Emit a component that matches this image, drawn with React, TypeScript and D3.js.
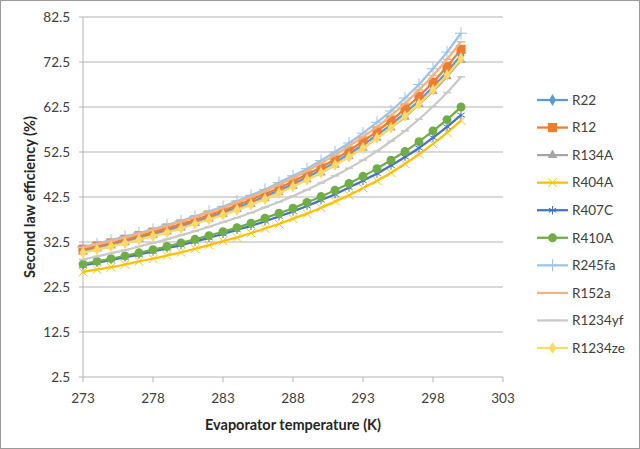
import * as d3 from "d3";

// evaporator temperature (K)
const temps = [
  273, 274, 275, 276, 277, 278, 279, 280, 281, 282, 283, 284, 285, 286,
  287, 288, 289, 290, 291, 292, 293, 294, 295, 296, 297, 298, 299, 300,
];

// second law efficiency (%)
const r22 = [
  30.6, 31.3, 32.0, 32.7, 33.5, 34.3, 35.2, 36.1, 37.0, 38.0, 39.1, 40.2, 41.4, 42.6,
  44.0, 45.4, 46.9, 48.5, 50.2, 52.1, 54.1, 56.3, 58.6, 61.2, 63.9, 67.0, 70.3, 74.0,
];
const r12 = [
  30.9, 31.6, 32.3, 33.1, 33.9, 34.7, 35.6, 36.5, 37.4, 38.5, 39.5, 40.7, 41.9, 43.2,
  44.5, 46.0, 47.5, 49.1, 50.9, 52.8, 54.9, 57.1, 59.5, 62.1, 64.9, 68.0, 71.5, 75.3,
];
const r134a = [
  30.3, 31.0, 31.7, 32.4, 33.2, 34.0, 34.8, 35.7, 36.7, 37.6, 38.7, 39.8, 40.9, 42.2,
  43.5, 44.9, 46.4, 47.9, 49.6, 51.5, 53.4, 55.6, 57.9, 60.3, 63.1, 66.0, 69.3, 72.9,
];
const r404a = [
  25.8, 26.4, 26.9, 27.5, 28.2, 28.8, 29.5, 30.2, 31.0, 31.8, 32.7, 33.5, 34.5, 35.5,
  36.5, 37.7, 38.8, 40.1, 41.5, 42.9, 44.5, 46.1, 47.9, 49.9, 52.0, 54.3, 56.8, 59.5,
];
const r407c = [
  27.3, 27.9, 28.5, 29.1, 29.7, 30.4, 31.1, 31.8, 32.6, 33.4, 34.3, 35.2, 36.1, 37.1,
  38.2, 39.3, 40.5, 41.8, 43.1, 44.6, 46.1, 47.7, 49.5, 51.4, 53.4, 55.7, 58.1, 60.7,
];
const r410a = [
  27.6, 28.2, 28.8, 29.4, 30.1, 30.8, 31.5, 32.3, 33.1, 33.9, 34.8, 35.7, 36.7, 37.8,
  38.9, 40.0, 41.3, 42.6, 44.0, 45.5, 47.1, 48.8, 50.7, 52.6, 54.8, 57.2, 59.7, 62.5,
];
const r245fa = [
  31.4, 32.1, 32.9, 33.7, 34.5, 35.3, 36.3, 37.2, 38.2, 39.3, 40.4, 41.6, 42.9, 44.2,
  45.7, 47.2, 48.8, 50.6, 52.5, 54.5, 56.7, 59.1, 61.6, 64.5, 67.5, 71.0, 74.7, 78.9,
];
const r152a = [
  31.3, 32.0, 32.7, 33.5, 34.3, 35.2, 36.1, 37.0, 38.0, 39.0, 40.1, 41.3, 42.5, 43.8,
  45.2, 46.7, 48.3, 50.0, 51.8, 53.8, 55.9, 58.1, 60.6, 63.3, 66.3, 69.5, 73.1, 77.0,
];
const r1234yf = [
  28.6, 29.3, 30.0, 30.7, 31.5, 32.3, 33.1, 34.0, 34.9, 35.9, 36.9, 37.9, 39.0, 40.2,
  41.4, 42.7, 44.1, 45.6, 47.2, 48.9, 50.7, 52.7, 54.9, 57.2, 59.8, 62.6, 65.7, 69.2,
];
const r1234ze = [
  30.1, 30.8, 31.5, 32.2, 33.0, 33.8, 34.6, 35.5, 36.5, 37.5, 38.5, 39.6, 40.8, 42.0,
  43.4, 44.8, 46.3, 47.9, 49.6, 51.4, 53.4, 55.6, 57.9, 60.5, 63.2, 66.3, 69.6, 73.3,
];

const names = ["R22", "R12", "R134A", "R404A", "R407C", "R410A", "R245fa", "R152a", "R1234yf", "R1234ze"];
const seriesValues = [r22, r12, r134a, r404a, r407c, r410a, r245fa, r152a, r1234yf, r1234ze];
const colors = ["#5B9BD5", "#ED7D31", "#A5A5A5", "#FFC000", "#4472C4", "#70AD47", "#9DC3E6", "#F4B183", "#C9C9C9", "#FFD966"];
const markers = ["diamond", "square", "triangle", "times", "asterisk", "circle", "plus", "dash", "dash", "diamond"];

const xTicks = [273, 278, 283, 288, 293, 298, 303];
const yTicks = [2.5, 12.5, 22.5, 32.5, 42.5, 52.5, 62.5, 72.5, 82.5];

const W = 640;
const H = 449;
const M = { left: 83, right: 503, top: 17, bottom: 377 };
const FONT = "Lato, 'Open Sans', sans-serif";

function Marker({ type, color, x, y }: { type: string; color: string; x: number; y: number }) {
  const t = `translate(${x},${y})`;
  switch (type) {
    case "diamond":
      return <path transform={t} d={d3.symbol(d3.symbolDiamond, 42)() ?? ""} fill={color} />;
    case "square":
      return <path transform={t} d={d3.symbol(d3.symbolSquare, 84)() ?? ""} fill={color} />;
    case "triangle":
      return <path transform={t} d={d3.symbol(d3.symbolTriangle, 40)() ?? ""} fill={color} />;
    case "circle":
      return <path transform={t} d={d3.symbol(d3.symbolCircle, 62)() ?? ""} fill={color} />;
    case "times":
      return <path transform={t} d={d3.symbol(d3.symbolTimes, 50)() ?? ""} fill="none" stroke={color} strokeWidth={1} />;
    case "asterisk":
      return <path transform={t} d={d3.symbol(d3.symbolAsterisk, 50)() ?? ""} fill="none" stroke={color} strokeWidth={1} />;
    case "plus":
      return <path transform={t} d={d3.symbol(d3.symbolPlus, 50)() ?? ""} fill="none" stroke={color} strokeWidth={1} />;
    case "dash":
      return <line x1={x - 4} x2={x + 4} y1={y} y2={y} stroke={color} strokeWidth={1.5} />;
    default:
      return null;
  }
}

export default function App() {
  const x = d3.scaleLinear().domain([273, 303]).range([M.left, M.right]);
  const y = d3.scaleLinear().domain([2.5, 82.5]).range([M.bottom, M.top]);
  const line = d3
    .line<number>()
    .x((_, i) => x(temps[i]))
    .y((d) => y(d))
    .curve(d3.curveMonotoneX);

  const legendY = d3.scalePoint<string>().domain(names).range([100, 348]);

  return (
    <svg
      width={W}
      height={H}
      style={{ position: "absolute", left: 0, top: 0, background: "#fff" }}
      fontFamily={FONT}
    >
      <rect x={0.5} y={0.5} width={W - 1} height={H - 1} fill="#fff" stroke="#9a9a9a" />

      {/* grid */}
      {yTicks.map((t) => (
        <g key={t}>
          <line x1={M.left - 4} x2={M.right} y1={y(t)} y2={y(t)} stroke="#b3b3b3" strokeWidth={1} />
          <text x={70} y={y(t)} dy="0.35em" textAnchor="end" fontSize={13.5} fill="#404040">
            {t.toFixed(1)}
          </text>
        </g>
      ))}
      <line x1={M.left} x2={M.left} y1={M.top} y2={M.bottom} stroke="#b3b3b3" />
      {xTicks.map((t) => (
        <g key={t}>
          <line x1={x(t)} x2={x(t)} y1={M.bottom} y2={M.bottom + 5} stroke="#b3b3b3" />
          <text x={x(t)} y={403} textAnchor="middle" fontSize={13.5} fill="#404040">
            {t}
          </text>
        </g>
      ))}

      {/* series */}
      {seriesValues.map((vals, si) => (
        <g key={names[si]}>
          <path d={line(vals) ?? ""} fill="none" stroke={colors[si]} strokeWidth={2.25} />
          {vals.map((v, i) => (
            <Marker key={i} type={markers[si]} color={colors[si]} x={x(temps[i])} y={y(v)} />
          ))}
        </g>
      ))}

      {/* axis titles */}
      <text x={(M.left + M.right) / 2} y={430} textAnchor="middle" fontSize={14.5} fontWeight="bold" fill="#262626">
        Evaporator temperature (K)
      </text>
      <text
        transform={`translate(35,${(M.top + M.bottom) / 2}) rotate(-90)`}
        textAnchor="middle"
        fontSize={14.5}
        fontWeight="bold"
        fill="#262626"
      >
        Second law efficiency (%)
      </text>

      {/* legend */}
      {names.map((n, i) => {
        const ly = legendY(n) ?? 0;
        return (
          <g key={n}>
            <line x1={537} x2={568} y1={ly} y2={ly} stroke={colors[i]} strokeWidth={2.25} />
            <Marker type={markers[i]} color={colors[i]} x={552.5} y={ly} />
            <text x={572} y={ly} dy="0.35em" fontSize={13.5} fill="#404040">
              {n}
            </text>
          </g>
        );
      })}
    </svg>
  );
}
